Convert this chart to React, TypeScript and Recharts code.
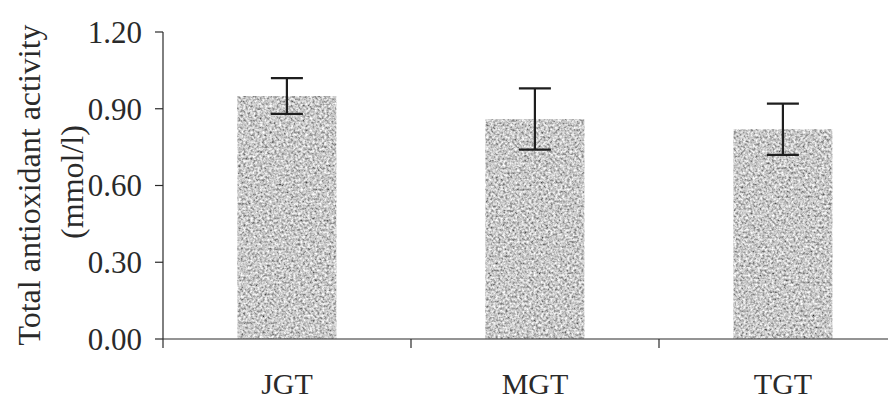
import { BarChart, Bar, XAxis, YAxis, ErrorBar } from 'recharts';

const groups = ['JGT', 'MGT', 'TGT'];
const activity = [0.95, 0.86, 0.82];
const sd = [0.07, 0.12, 0.1];
const yTicks = [0, 0.3, 0.6, 0.9, 1.2];

const FONT = "'Liberation Serif', 'Times New Roman', serif";
const INK = '#2a2a2a';

const data = groups.map((g, i) => ({ group: g, value: activity[i], err: sd[i] }));

function GroupTick(props: any) {
  const { x, y, payload, index } = props;
  const off = payload && typeof payload.offset === 'number' ? payload.offset : 0;
  return (
    <g>
      <line x1={x - off} y1={y} x2={x - off} y2={y + 9} stroke={INK} strokeWidth={1.2} />
      {index === groups.length - 1 && off > 0 && (
        <line x1={x + off} y1={y} x2={x + off} y2={y + 9} stroke={INK} strokeWidth={1.2} />
      )}
      <text x={x} y={y + 55} textAnchor="middle" fill={INK} fontSize={30} fontFamily={FONT}>
        {payload.value}
      </text>
    </g>
  );
}

function ValueTick(props: any) {
  const { x, y, payload } = props;
  return (
    <text x={x} y={y} dy="0.35em" textAnchor="end" fill={INK} fontSize={31} fontFamily={FONT}>
      {Number(payload.value).toFixed(2)}
    </text>
  );
}

function YTitle() {
  return (
    <g fontFamily={FONT} fontSize={32} fill={INK} textAnchor="middle">
      <text x={21} y={177} dy="0.35em" transform="rotate(-90 21 177)">Total antioxidant activity</text>
      <text x={64} y={174} dy="0.35em" transform="rotate(-90 64 174)">(mmol/l)</text>
    </g>
  );
}

export default function App() {
  return (
    <div style={{ width: 888, height: 392, overflow: 'hidden', background: '#fff' }}>
      <BarChart
        width={900}
        height={392}
        data={data}
        margin={{ top: 24, right: 1, bottom: 1, left: 80 }}
        barCategoryGap="30%"
      >
        <defs>
          {/* speckled grey fill, like the scanned original */}
          <filter id="grain" x="0" y="0" width="100%" height="100%">
            <feTurbulence type="fractalNoise" baseFrequency="0.42" numOctaves="2" seed="7" result="noise" />
            <feColorMatrix
              in="noise"
              type="matrix"
              values="1.4 0 0 0 -0.12  1.4 0 0 0 -0.12  1.4 0 0 0 -0.12  0 0 0 0 1"
              result="gray"
            />
            <feComposite in="gray" in2="SourceGraphic" operator="in" />
          </filter>
        </defs>
        <XAxis
          dataKey="group"
          tickLine={false}
          tickSize={0}
          tickMargin={0}
          height={60}
          axisLine={{ stroke: INK, strokeWidth: 1.2 }}
          tick={<GroupTick />}
          interval={0}
        />
        <YAxis
          domain={[0, 1.2]}
          ticks={yTicks}
          width={75}
          tickSize={8}
          tickMargin={13}
          axisLine={{ stroke: INK, strokeWidth: 1.2 }}
          tickLine={{ stroke: INK, strokeWidth: 1.2 }}
          tick={<ValueTick />}
          label={<YTitle />}
        />
        <Bar dataKey="value" fill="#a0a0a0" filter="url(#grain)" isAnimationActive={false}>
          <ErrorBar dataKey="err" width={16} stroke="#1e1e1e" strokeWidth={2.2} />
        </Bar>
      </BarChart>
    </div>
  );
}
